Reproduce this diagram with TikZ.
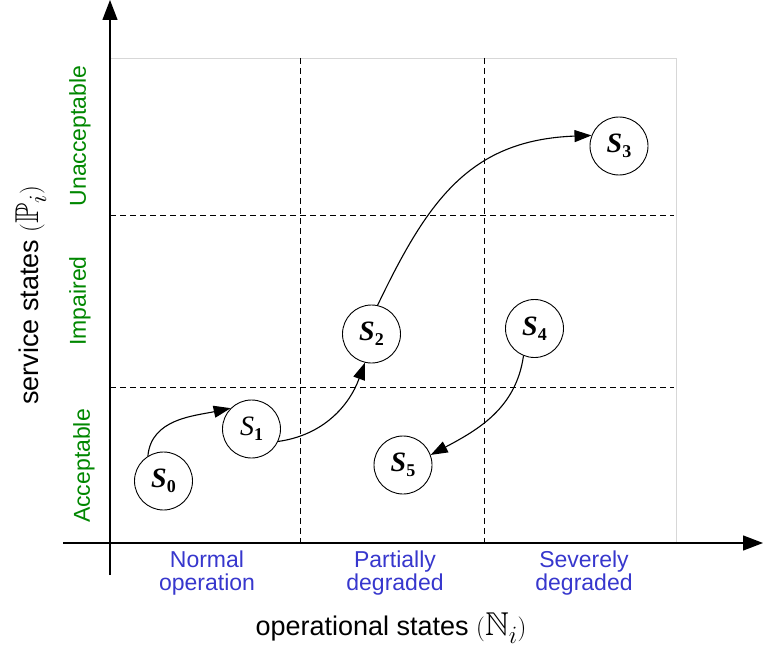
\documentclass[tikz,border=0pt]{standalone}
\usepackage{amssymb}
\usepackage{fontspec}
\setmainfont{Liberation Sans}
\newfontfamily\statefont{Liberation Serif}
\usetikzlibrary{arrows.meta}
\definecolor{levelgreen}{RGB}{0,135,0}
\definecolor{modeblue}{RGB}{55,55,205}
\definecolor{framegray}{RGB}{215,215,215}
\newcommand{\stlabel}[3]{{\statefont\fontsize{28}{28}\selectfont#1S\raisebox{-0.4ex}{\fontsize{18}{18}\selectfont\upshape\bfseries #2}#3}}
\newcommand{\setsym}[1]{{\fontsize{33}{33}\selectfont$(#1)$}}
\tikzset{
  axisline/.style={line width=1.3pt, -{Triangle[length=20pt,width=15pt]}},
  gridline/.style={line width=0.9pt, dash pattern=on 6pt off 4pt},
  statenode/.style={draw, circle, line width=0.9pt, minimum size=58pt, inner sep=0pt},
  transition/.style={line width=1.1pt, -{Triangle[length=17pt,width=12pt]}},
  levellabel/.style={text=levelgreen, font=\fontsize{23}{25}\selectfont, rotate=90},
  modelabel/.style={text=modeblue, font=\fontsize{23}{22.5}\selectfont, align=center},
  axislabel/.style={font=\fontsize{27}{30}\selectfont}
}
\begin{document}
\begin{tikzpicture}[x=1pt,y=-1pt]
\useasboundingbox (0,0) rectangle (763,650);

% plot area frame
\draw[framegray, line width=0.8pt] (110,58) -- (676,58) -- (676,543);

% grid of regions
\draw[gridline] (300,58) -- (300,543);
\draw[gridline] (484,58) -- (484,543);
\draw[gridline] (110,215) -- (674,215);
\draw[gridline] (110,387) -- (674,387);

% axes
\coordinate (yfoot) at (110,575);
\coordinate (ytip) at (110,0);
\coordinate (xfoot) at (63,543);
\coordinate (xtip) at (763,543);
\draw[axisline] (yfoot) -- (ytip);
\draw[axisline] (xfoot) -- (xtip);

% service level labels
\node[levellabel] (unacc) at (80,136) {Unacceptable};
\node[levellabel] (impair) at (80,301) {Impaired};
\node[levellabel] (accept) at (84,466) {Acceptable};
\node[axislabel, rotate=90] (ylab) at (31,295) {service states \setsym{\mathbb{P}_i}};

% operational mode labels
\node[modelabel] (normal) at (207,573) {Normal\\operation};
\node[modelabel] (partial) at (395,573) {Partially\\degraded};
\node[modelabel] (severe) at (584,573) {Severely\\degraded};
\node[axislabel] (xlab) at (391,628) {operational states \setsym{\mathbb{N}_i}};

% states
\node[statenode] (s0) at (163.5,481) {\stlabel{\bfseries\itshape}{0}{}};
\node[statenode] (s1) at (251.5,429) {\stlabel{\itshape}{1}{}};
\node[statenode] (s2) at (371.5,334) {\stlabel{\bfseries\itshape}{2}{}};
\node[statenode] (s3) at (619,146) {\stlabel{\bfseries\itshape}{3}{}};
\node[statenode] (s4) at (534.5,328.5) {\stlabel{\bfseries\itshape}{4}{}};
\node[statenode] (s5) at (403,465) {\stlabel{\bfseries\itshape}{5}{}};

% transitions
\draw[transition] (s0.122) to[out=85,in=192] (s1.135);
\draw[transition] (s1.-25) to[out=8,in=250] (s2.257);
\draw[transition] (s2.78) .. controls (428,200) and (470,140) .. (s3.159);
\draw[transition] (s4.248) to[out=262,in=28] (s5.20);
\end{tikzpicture}
\end{document}
